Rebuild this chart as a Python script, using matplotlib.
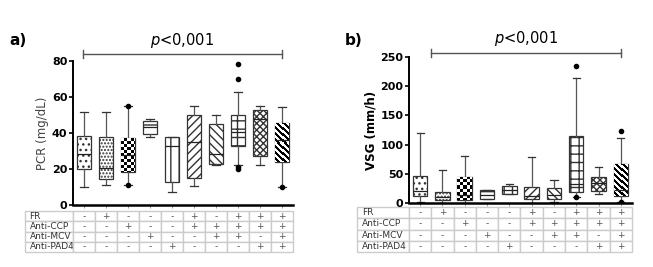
import matplotlib
matplotlib.use("Agg")
import matplotlib.pyplot as plt
import numpy as np
from matplotlib.table import Table

# marker rows of the table under both panels
row_names = ["FR", "Anti-CCP", "Anti-MCV", "Anti-PAD4"]
signs = [
    ["-", "+", "-", "-", "-", "+", "-", "+", "+", "+"],
    ["-", "-", "+", "-", "-", "+", "+", "+", "+", "+"],
    ["-", "-", "-", "+", "-", "-", "+", "+", "-", "+"],
    ["-", "-", "-", "-", "+", "-", "-", "-", "+", "+"],
]

# PCR (mg/dL) box stats
pcr_lo = [10, 11, 11, 38, 7, 10.7, 22, 22.2, 22, 10.2]
pcr_q1 = [20, 14.4, 18.5, 39.5, 12.9, 14.8, 23.1, 33, 27.4, 24.1]
pcr_med = [28.6, 20.4, 28, 43.5, 33, 34.8, 28.5, 40.4, 48.1, 36]
pcr_q3 = [38.3, 38, 37.4, 47, 37.6, 50, 45, 50, 53.1, 45.4]
pcr_hi = [52, 52, 55, 48, 38, 55.2, 50, 62.6, 55, 54.3]
pcr_out = [[], [], [55, 11], [], [], [], [], [78.3, 70, 20, 21], [], [10.2]]

# VSG (mm/h) box stats
vsg_lo = [2, 0.5, 0.5, 6, 15, 0.5, 2, 10.8, 15, 2.2]
vsg_q1 = [12, 5, 5, 6.5, 15.4, 6.3, 6.3, 19.4, 21, 12.5]
vsg_med = [21, 11, 13, 13.7, 22, 12.5, 13.7, 32, 34, 22]
vsg_q3 = [46, 19.4, 45, 22, 29.7, 28, 25, 115, 45, 66.8]
vsg_hi = [120, 56.5, 80, 23, 32, 79, 39.4, 213.5, 62, 110.7]
vsg_out = [[], [], [], [], [], [], [], [235, 10], [], [124, 2.2]]

hatches = ["...", ".....", None, "-", "||", "////", "\\\\\\\\", "++", "xxxxx", None]
WIDTH = 0.65


def make_stats(lo, q1, med, q3, hi, out):
    return [dict(whislo=a, q1=b, med=c, q3=d, whishi=e, fliers=f)
            for a, b, c, d, e, f in zip(lo, q1, med, q3, hi, out)]


def pattern_fill(ax, box, pos, q1, q3, ymax, kind):
    # pixel-sized pattern image clipped to the box
    bb = ax.get_position()
    fig = ax.figure
    px_x = bb.width * fig.get_figwidth() * fig.dpi / 10.0
    px_y = bb.height * fig.get_figheight() * fig.dpi / ymax
    nx = max(int(round(WIDTH * px_x)), 1)
    ny = max(int(round((q3 - q1) * px_y)), 1)
    i, j = np.indices((ny, nx))
    if kind == "checker":
        img = ((i // 3 + j // 3) % 2).astype(float)
    else:
        img = (((i - j) // 3) % 2).astype(float)
    im = ax.imshow(img, cmap="Greys", vmin=0, vmax=1, interpolation="nearest",
                   extent=[pos - WIDTH / 2, pos + WIDTH / 2, q1, q3],
                   aspect="auto", zorder=box.get_zorder() + 0.1)
    im.set_clip_path(box)


def panel(ax, stats, ymax, ystep, ylabel, ylab_bold, bar_from, bar_y, table_box):
    bp = ax.bxp(stats, positions=range(1, 11), widths=WIDTH, patch_artist=True,
                boxprops=dict(edgecolor="#333333", linewidth=0.9),
                whiskerprops=dict(color="#555555", linewidth=0.9),
                capprops=dict(color="#333333", linewidth=0.9),
                medianprops=dict(color="#222222", linewidth=0.9, zorder=3),
                flierprops=dict(marker="o", markerfacecolor="black",
                                markeredgecolor="black", markersize=3))
    ax.set_xlim(0.5, 10.5)
    ax.set_ylim(0, ymax)
    for k, (box, h, st) in enumerate(zip(bp["boxes"], hatches, stats)):
        box.set_facecolor("white")
        if h:
            box.set_hatch(h)
        elif k == 2:
            pattern_fill(ax, box, k + 1, st["q1"], st["q3"], ymax, "checker")
        else:
            pattern_fill(ax, box, k + 1, st["q1"], st["q3"], ymax, "stripes")
    ax.set_xlim(0.5, 10.5)
    ax.set_ylim(0, ymax)
    ax.set_yticks(range(0, ymax + 1, ystep))
    ax.set_xticks(range(1, 11))
    ax.set_xticklabels([])
    ax.tick_params(axis="x", length=2, width=0.6, color="#888888")
    ax.tick_params(axis="y", length=3, width=1.2, labelsize=8, pad=1)
    for t in ax.get_yticklabels():
        t.set_fontweight("bold")
    for s in ["top", "right"]:
        ax.spines[s].set_visible(False)
    ax.spines["left"].set_linewidth(1.4)
    ax.spines["bottom"].set_linewidth(1.8)
    ax.set_ylabel(ylabel, fontsize=8.5, labelpad=2,
                  fontweight="bold" if ylab_bold else "normal",
                  color="black" if ylab_bold else "#444444")

    # p-value bracket
    ax.plot([bar_from, 10], [bar_y, bar_y], color="#555555", lw=1, clip_on=False)
    for xx in [bar_from, 10]:
        ax.plot([xx, xx], [bar_y - ymax * 0.025, bar_y + ymax * 0.025],
                color="#555555", lw=1, clip_on=False)
    ax.text((bar_from + 10) / 2, bar_y + ymax * 0.03, "$p$<0,001",
            ha="center", va="bottom", fontsize=10.5)

    # group table
    tb = Table(ax, bbox=table_box)
    label_w = table_box[2] - 1.0
    for r, (name, row) in enumerate(zip(row_names, signs)):
        c0 = tb.add_cell(r, 0, width=label_w, height=1, text=name,
                         loc="left", edgecolor="#cccccc")
        c0.get_text().set_color("#333333")
        for c, s in enumerate(row):
            cell = tb.add_cell(r, c + 1, width=0.1, height=1, text=s,
                               loc="center", edgecolor="#cccccc")
            cell.get_text().set_color("#555555")
    tb.auto_set_font_size(False)
    tb.set_fontsize(6.5)
    ax.add_table(tb)


fig = plt.figure(figsize=(6.53, 2.67), dpi=100)
ax1 = fig.add_axes([0.1118, 0.232, 0.337, 0.539])
ax2 = fig.add_axes([0.6263, 0.2397, 0.3415, 0.547])

panel(ax1, make_stats(pcr_lo, pcr_q1, pcr_med, pcr_q3, pcr_hi, pcr_out),
      80, 20, "PCR (mg/dL)", False, 0.95, 84, [-0.22, -0.326, 1.22, 0.284])
panel(ax2, make_stats(vsg_lo, vsg_q1, vsg_med, vsg_q3, vsg_hi, vsg_out),
      250, 50, "VSG (mm/h)", True, 1.5, 257, [-0.233, -0.336, 1.233, 0.309])

fig.text(0.015, 0.83, "a)", fontsize=11, fontweight="bold")
fig.text(0.528, 0.83, "b)", fontsize=11, fontweight="bold")

fig.savefig("out.png", dpi=100)
